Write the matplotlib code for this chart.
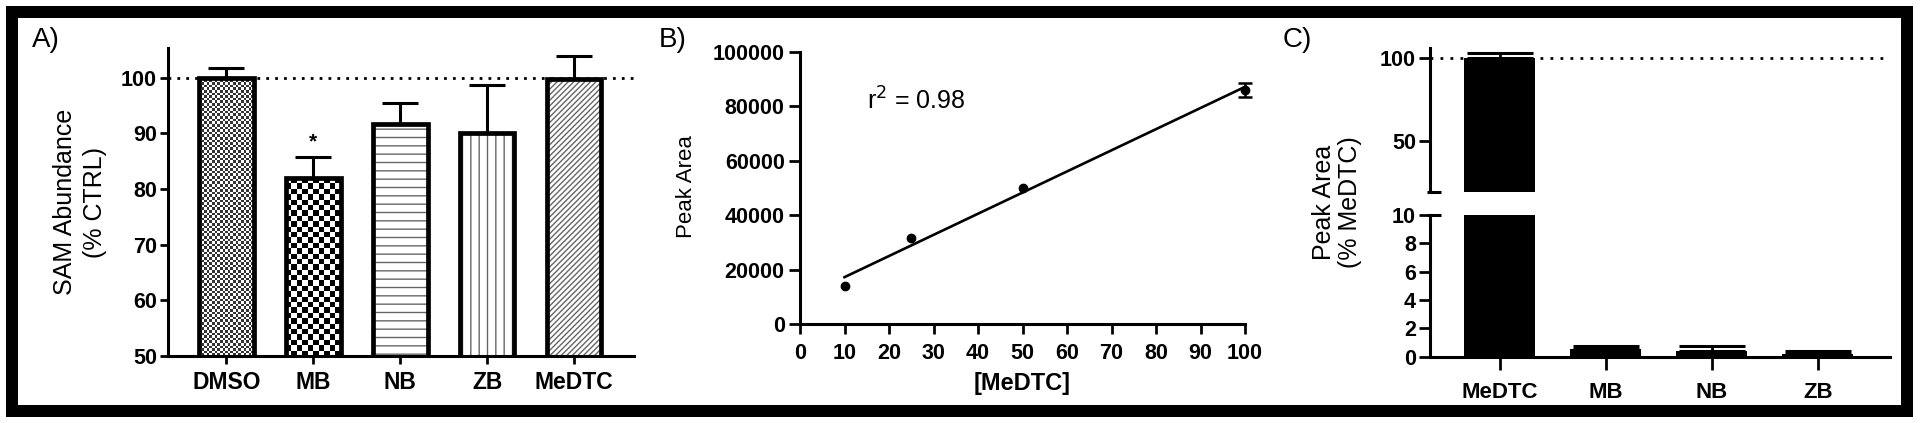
import matplotlib
matplotlib.use("Agg")
import matplotlib.pyplot as plt
import numpy as np
from matplotlib.colors import ListedColormap
from matplotlib.patches import Rectangle

plt.rcParams["font.family"] = ["Liberation Sans", "DejaVu Sans"]
plt.rcParams["hatch.linewidth"] = 1.0

# Panel A: SAM abundance (% of control)
a_groups = ["DMSO", "MB", "NB", "ZB", "MeDTC"]
a_values = [100.0, 81.9, 91.7, 90.1, 99.7]
a_errors = [1.7, 3.8, 3.7, 8.5, 4.1]
a_signif = ["", "*", "", "", ""]

# Panel B: calibration curve
b_conc = [10, 25, 50, 100]
b_area = [14000, 31600, 49900, 85900]
b_err = [0, 0, 0, 2600]
b_r2 = "0.98"

# Panel C: peak area (% MeDTC)
c_groups = ["MeDTC", "MB", "NB", "ZB"]
c_values = [100.0, 0.52, 0.38, 0.17]
c_errors = [2.6, 0.22, 0.36, 0.2]

W, H = 1920, 423
fig = plt.figure(figsize=(W / 100, H / 100), dpi=100)


def px_axes(x0, x1, ytop, ybot):
    # axes box given in pixel coords of the 1920x423 image (y from top)
    return fig.add_axes([x0 / W, (H - ybot) / H, (x1 - x0) / W, (ybot - ytop) / H])


def style(ax, lw=2.2):
    for s in ["top", "right"]:
        ax.spines[s].set_visible(False)
    for s in ["left", "bottom"]:
        ax.spines[s].set_linewidth(lw)
    ax.tick_params(width=lw * 0.9, length=6, color="black")


def checker(ax, patch, x0, x1, y0, y1, cell_px, dark):
    p0 = ax.transData.transform((x0, y0))
    p1 = ax.transData.transform((x1, y1))
    nx = max(1, int(round(abs(p1[0] - p0[0]) / cell_px)))
    ny = max(1, int(round(abs(p1[1] - p0[1]) / cell_px)))
    arr = np.add.outer(np.arange(ny), np.arange(nx)) % 2
    im = ax.imshow(arr, cmap=ListedColormap(["white", dark]), extent=(x0, x1, y0, y1),
                   aspect="auto", interpolation="nearest", zorder=1)
    im.set_clip_path(patch)


# ---------------- Panel A ----------------
axA = px_axes(168, 634, 48, 356)
style(axA)
xa = np.arange(len(a_groups))
axA.set_xlim(-0.67, len(a_groups) - 1 + 0.69)
axA.set_ylim(50, 105.3)
bw = 0.63
axA.axhline(100, color="black", lw=2, linestyle=(0, (1, 2.2)), zorder=0.5)
hatches = [None, None, "--", "||", "//////"]
for i, (v, h) in enumerate(zip(a_values, hatches)):
    if h is not None:
        axA.bar(xa[i], v, bw, color="white", edgecolor="#666666", hatch=h, lw=0, zorder=1)
    else:
        axA.bar(xa[i], v, bw, color="white", lw=0, zorder=1)
bars = axA.bar(xa, a_values, bw, facecolor="none", edgecolor="black", lw=3.4, zorder=3)
checker(axA, bars[0], -bw / 2, bw / 2, 50, a_values[0], 2.6, "#333333")
checker(axA, bars[1], 1 - bw / 2, 1 + bw / 2, 50, a_values[1], 5.4, "black")
axA.errorbar(xa, a_values, yerr=[np.zeros(len(a_errors)), a_errors], fmt="none",
             ecolor="black", elinewidth=2.2, capsize=13, capthick=2.2, zorder=2)
for i, s in enumerate(a_signif):
    if s:
        axA.text(xa[i], a_values[i] + a_errors[i] + 2.8, s, ha="center", va="center",
                 fontsize=15, fontweight="bold")
axA.set_xticks(xa)
axA.set_xticklabels(a_groups, fontsize=16.5, fontweight="bold")
axA.set_yticks([50, 60, 70, 80, 90, 100])
axA.set_yticklabels(["50", "60", "70", "80", "90", "100"], fontsize=15.5, fontweight="bold")
axA.tick_params(axis="y", pad=2)
axA.tick_params(axis="x", pad=5)
fig.text(80 / W, 1 - 202 / H, "SAM Abundance\n(% CTRL)", rotation=90, ha="center",
         va="center", fontsize=18, linespacing=1.35)
fig.text(32 / W, 1 - 40 / H, "A)", ha="left", va="center", fontsize=20)

# ---------------- Panel B ----------------
axB = px_axes(800, 1245, 51.7, 324)
style(axB)
axB.set_xlim(0, 100)
axB.set_ylim(0, 100000)
slope, icpt = np.polyfit(b_conc, b_area, 1)
xfit = np.array([min(b_conc), max(b_conc)])
axB.plot(xfit, slope * xfit + icpt, color="black", lw=1.9, zorder=2)
axB.plot(b_conc, b_area, "o", color="black", ms=6, zorder=3, clip_on=False)
has_err = [i for i, e in enumerate(b_err) if e > 0]
axB.errorbar([b_conc[i] for i in has_err], [b_area[i] for i in has_err],
             yerr=[b_err[i] for i in has_err], fmt="none", ecolor="black",
             elinewidth=1.8, capsize=5, capthick=1.8, zorder=3, clip_on=False)
axB.set_xticks(np.arange(0, 101, 10))
axB.set_xticklabels([str(t) for t in range(0, 101, 10)], fontsize=15.5, fontweight="bold")
axB.set_yticks(np.arange(0, 100001, 20000))
axB.set_yticklabels([str(t) for t in range(0, 100001, 20000)], fontsize=15.5, fontweight="bold")
axB.tick_params(axis="x", length=7, pad=7)
axB.tick_params(axis="y", length=8, pad=3)
axB.text(15, 82000, "r$^2$ = " + b_r2, ha="left", va="center", fontsize=18)
fig.text(687 / W, 1 - 187 / H, "Peak Area", rotation=90, ha="center", va="center", fontsize=16)
fig.text(1022 / W, 1 - 383 / H, "[MeDTC]", ha="center", va="center", fontsize=17, fontweight="bold")
fig.text(659 / W, 1 - 40 / H, "B)", ha="left", va="center", fontsize=20)

# ---------------- Panel C ----------------
xc = np.arange(len(c_groups))
cw = 0.67
xlimC = (-0.66, len(c_groups) - 1 + 0.68)
axCu = px_axes(1430, 1890, 48.3, 191.7)
axCl = px_axes(1430, 1890, 215, 356.7)
for ax in (axCu, axCl):
    style(ax)
    ax.set_xlim(*xlimC)
    ax.bar(xc, c_values, cw, color="black", lw=0, zorder=2)
    ax.errorbar(xc, c_values, yerr=[np.zeros(len(c_errors)), c_errors], fmt="none",
                ecolor="black", elinewidth=2, capsize=24, capthick=2.2, zorder=3)
axCu.set_ylim(20, 105.5)
axCu.spines["bottom"].set_visible(False)
axCu.set_xticks([])
axCu.set_yticks([50, 100])
axCu.set_yticklabels(["50", "100"], fontsize=15.5, fontweight="bold")
axCu.axhline(100, color="black", lw=2, linestyle=(0, (1, 2.6)), zorder=1, xmax=0.985)
axCl.set_ylim(0, 10)
axCl.set_yticks([0, 2, 4, 6, 8, 10])
axCl.set_yticklabels(["0", "2", "4", "6", "8", "10"], fontsize=15.5, fontweight="bold")
axCl.set_xticks(xc)
axCl.set_xticklabels(c_groups, fontsize=16, fontweight="bold",
                     family=["Liberation Sans Narrow", "Liberation Sans"])
axCl.tick_params(axis="x", length=9, pad=9)
for ax in (axCu, axCl):
    ax.tick_params(axis="y", length=8, pad=2)
# axis-break end marks
d0, d1 = -0.03, 0.10
axCu.plot([xlimC[0] + d0, xlimC[0] + d1], [20, 20], color="black", lw=2.2, clip_on=False,
          solid_capstyle="butt")
axCl.plot([xlimC[0] + d0, xlimC[0] + d1], [10, 10], color="black", lw=2.2, clip_on=False,
          solid_capstyle="butt")
fig.text(1337 / W, 1 - 202 / H, "Peak Area\n(% MeDTC)", rotation=90, ha="center",
         va="center", fontsize=18, linespacing=1.1)
fig.text(1283 / W, 1 - 40 / H, "C)", ha="left", va="center", fontsize=20)

# outer black frame
fig.patches.append(Rectangle((12 / W, 12 / H), 1895 / W, 399 / H, transform=fig.transFigure,
                             fill=False, edgecolor="black", lw=8.64, joinstyle="miter"))

fig.savefig("out.png", dpi=100)
